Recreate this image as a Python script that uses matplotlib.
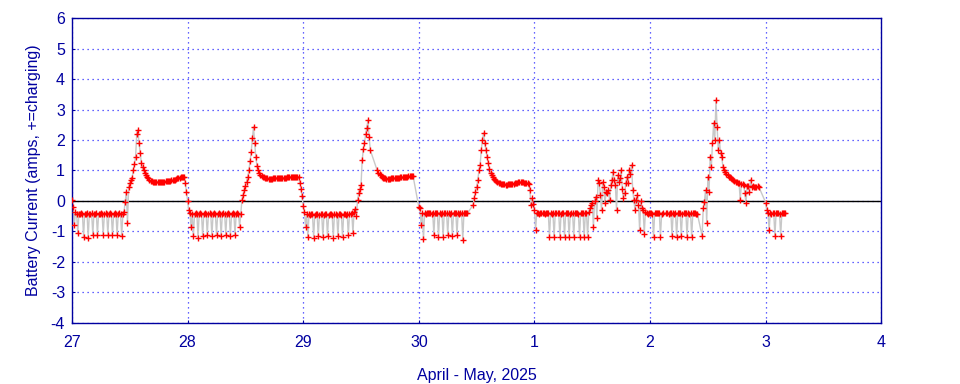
import numpy as np
import matplotlib
matplotlib.use("Agg")
import matplotlib.pyplot as plt

plt.rcParams['font.family'] = ['Liberation Sans', 'DejaVu Sans']
plt.rcParams['axes.unicode_minus'] = False

nan = np.nan
step = 0.01   # readings every 0.01 day (~14 min); nan = no reading

# battery current per day, amps (+ = charging)
apr27 = [0.03, -0.2, -0.79, -0.37, -0.42, -1.05, -0.42, -0.44, -0.4, -0.42,
         -1.18, -0.42, -0.44, -0.4, -1.2, -0.42, -0.43, -0.41, -1.1, -0.42,
         -0.44, -0.4, -1.12, -0.42, -0.43, -0.41, -0.42, -1.1, -0.44, -0.4,
         -0.42, -1.1, -0.43, -0.41, -0.42, -1.12, -0.44, -0.4, -0.42, -1.1,
         -0.43, -0.41, -0.42, -1.15, -0.42, -0.35, -0.03, 0.3, -0.72, 0.45,
         0.6, 0.7, 0.75, 1.0, 1.2, 1.45, 2.2, 2.33, 1.9, 1.57,
         1.25, 1.1, 1.0, 0.92, 0.85, 0.78, 0.74, 0.69, 0.66, 0.64,
         0.63, 0.62, 0.62, 0.61, 0.62, 0.62, 0.62, 0.63, 0.62, 0.63,
         0.63, 0.64, 0.64, 0.65, 0.66, 0.67, 0.68, 0.69, 0.7, 0.7,
         0.72, 0.74, 0.75, 0.77, 0.78, 0.79, 0.8, 0.8, 0.6, 0.3]
apr28 = [0.0, -0.3, -0.4, -0.85, -0.42, -1.15, -0.44, -0.4, -0.42, -1.2,
         -0.43, -0.41, -0.42, -1.15, -0.44, -0.4, -0.42, -1.1, -0.43, -0.41,
         -0.42, -1.15, -0.44, -0.4, -0.42, -1.1, -0.43, -0.41, -0.42, -1.15,
         -0.44, -0.4, -0.42, -1.1, -0.43, -0.41, -0.42, -1.15, -0.44, -0.4,
         -0.42, -1.1, -0.43, -0.41, -0.42, -0.85, -0.42, 0.03, 0.2, 0.36,
         0.5, 0.62, 0.8, 1.0, 1.3, 1.6, 2.05, 2.43, 1.9, 1.45,
         1.15, 1.0, 0.92, 0.86, 0.83, 0.8, 0.78, 0.76, 0.75, 0.74,
         0.73, 0.72, 0.72, 0.73, 0.74, 0.75, 0.75, 0.75, 0.74, 0.75,
         0.75, 0.76, 0.76, 0.77, 0.77, 0.77, 0.78, 0.78, 0.78, 0.79,
         0.79, 0.79, 0.79, 0.8, 0.79, 0.79, 0.8, 0.6, 0.4, 0.15]
apr29 = [-0.15, -0.35, -0.84, -0.44, -1.17, -0.44, -0.46, -0.42, -0.44, -1.2,
         -0.45, -0.43, -0.44, -1.15, -0.46, -0.42, -0.44, -1.18, -0.45, -0.43,
         -0.44, -1.15, -0.46, -0.42, -0.44, -0.45, -1.2, -0.43, -0.44, -0.46,
         -1.15, -0.42, -0.44, -0.45, -1.18, -0.43, -0.44, -0.46, -0.42, -1.12,
         -0.44, -0.42, -0.4, -1.05, -0.35, -0.25, -0.5, 0.03, 0.26, 0.4,
         0.52, 1.34, 1.7, 1.9, 2.2, 2.4, 2.65, 2.1, 1.67, nan,
         nan, nan, nan, nan, 1.0, 0.93, 0.88, 0.85, 0.8, 0.77,
         0.75, 0.74, 0.73, 0.73, 0.73, 0.73, 0.74, 0.74, 0.75, 0.75,
         0.76, 0.76, 0.77, 0.77, 0.78, 0.78, 0.79, 0.79, 0.8, 0.8,
         0.8, 0.81, 0.81, 0.82, 0.82, 0.82, nan, nan, nan, nan]
apr30 = [-0.2, -0.23, -0.79, -0.38, -1.25, -0.4, -0.42, -0.38, -0.4, -0.41,
         -0.39, -0.42, -0.4, -1.1, -0.38, -0.4, -0.41, -1.18, -0.39, -0.42,
         -0.4, -1.18, -0.38, -0.4, -0.41, -1.1, -0.39, -0.42, -0.4, -1.15,
         -0.38, -0.4, -0.41, -1.1, -0.39, -0.42, -0.4, -0.38, -1.28, -0.4,
         -0.41, -0.39, -0.4, nan, nan, nan, nan, -0.13, 0.1, 0.3,
         0.45, 0.69, 1.0, 1.18, 1.67, 2.0, 2.23, 1.9, 1.67, 1.45,
         1.25, 1.05, 0.92, 0.85, 0.78, 0.72, 0.68, 0.64, 0.62, 0.6,
         0.58, 0.57, 0.56, 0.55, 0.55, 0.54, 0.54, 0.55, 0.55, 0.55,
         0.56, 0.56, 0.57, 0.58, 0.59, 0.6, 0.61, 0.62, 0.62, 0.62,
         0.61, 0.6, 0.6, 0.6, 0.6, 0.55, 0.36, -0.13, 0.1, -0.1]
may01 = [-0.3, -0.95, -0.38, -0.4, -0.42, -0.38, -0.4, -0.41, -0.39, -0.42,
         -0.4, -0.38, -0.41, -1.18, -0.4, -0.42, -0.39, -1.18, -0.4, -0.38,
         -0.41, -0.4, -1.18, -0.42, -0.39, -0.4, -1.18, -0.38, -0.41, -0.4,
         -1.18, -0.42, -0.39, -0.4, -1.18, -0.38, -0.41, -0.4, -0.42, -1.18,
         -0.39, -0.4, -0.38, -1.18, -0.41, -0.4, -1.18, -0.35, -0.24, -0.13,
         -0.08, -0.85, 0.0, 0.14, -0.56, 0.69, 0.58, 0.2, -0.3, 0.62,
         0.47, -0.08, 0.31, 0.25, 0.36, 0.03, 0.52, 0.7, 0.96, 0.69,
         0.52, -0.3, 0.85, 0.62, 0.75, 1.02, 0.4, 0.1, 0.25, 0.58,
         0.8, 0.6, 1.02, 0.9, 1.18, 0.36, 0.03, -0.3, 0.03, 0.2,
         -0.13, -0.95, 0.0, -0.24, -0.3, -1.07, -0.35, -0.4, -0.42, -0.39]
may02 = [-0.38, -0.4, -0.42, -1.18, -0.39, -0.4, -0.41, -0.38, -0.4, -1.18,
         -0.42, -0.4, nan, nan, -0.41, -0.39, -0.42, -0.4, -0.38, -1.15,
         -0.4, -0.42, -0.39, -1.18, -0.41, -0.4, -0.38, -1.15, -0.42, -0.4,
         -0.39, -0.41, -1.18, -0.4, -0.42, -0.38, -1.18, -0.4, -0.41, -0.39,
         -0.42, -0.43, nan, nan, nan, -1.15, -0.24, -0.02, 0.36, -0.72,
         0.8, 0.3, 1.45, 1.1, 1.9, 2.56, 2.0, 3.31, 2.44, 1.67,
         2.0, 1.57, 1.45, 1.12, 1.0, 0.95, 0.9, 0.85, 0.8, 0.78,
         0.75, 0.72, 0.68, 0.65, 0.63, 0.62, 0.6, 0.58, 0.03, 0.56,
         0.55, 0.52, 0.25, -0.08, 0.5, 0.48, 0.3, 0.7, 0.47, 0.5,
         0.47, 0.47, 0.47, 0.48, 0.47, nan, nan, nan, nan, nan]
may03 = [-0.05, -0.3, -0.38, -0.95, -0.4, -0.42, -0.39, -0.4, -1.15, -0.41,
         -0.38, -0.4, -0.42, -1.15, -0.4, -0.38, -0.4, -0.38]

days = [apr27, apr28, apr29, apr30, may01, may02, may03]
day_labels = ['27', '28', '29', '30', '1', '2', '3', '4']

t, amps = [], []
for d, vals in enumerate(days):
    for i, v in enumerate(vals):
        t.append(d + i * step)
        amps.append(v)
t = np.array(t)
amps = np.array(amps)
ok = ~np.isnan(amps)

navy = '#0000a0'
fig = plt.figure(figsize=(9.6, 3.84), dpi=100)
ax = fig.add_axes([0.075, 0.159, 0.843, 0.794])

ax.plot(t[ok], amps[ok], color='#c8c8c8', lw=1, zorder=2)
ax.plot(t[ok], amps[ok], ls='none', marker='+', ms=4, mew=1.0,
        color='red', zorder=3)
ax.axhline(0, color='black', lw=1, zorder=1)

ax.set_xlim(0, 7)
ax.set_ylim(-4, 6)
ax.set_xticks(range(8))
ax.set_xticklabels(day_labels)
ax.set_yticks(range(-4, 7))
ax.grid(True, color='#3030ff', ls=(0, (1, 3)), lw=0.9)
ax.set_axisbelow(True)

for s in ax.spines.values():
    s.set_color(navy)
    s.set_linewidth(1)
ax.tick_params(colors=navy, labelsize=11.5, direction='in', length=2)
ax.tick_params(axis='x', pad=9)
ax.tick_params(axis='y', pad=5)
ax.set_xlabel('April - May, 2025', color=navy, fontsize=11.5, labelpad=13)
ax.set_ylabel('Battery Current (amps, +=charging)', color=navy,
              fontsize=11.5, labelpad=7)

fig.savefig('out.png', dpi=100)
